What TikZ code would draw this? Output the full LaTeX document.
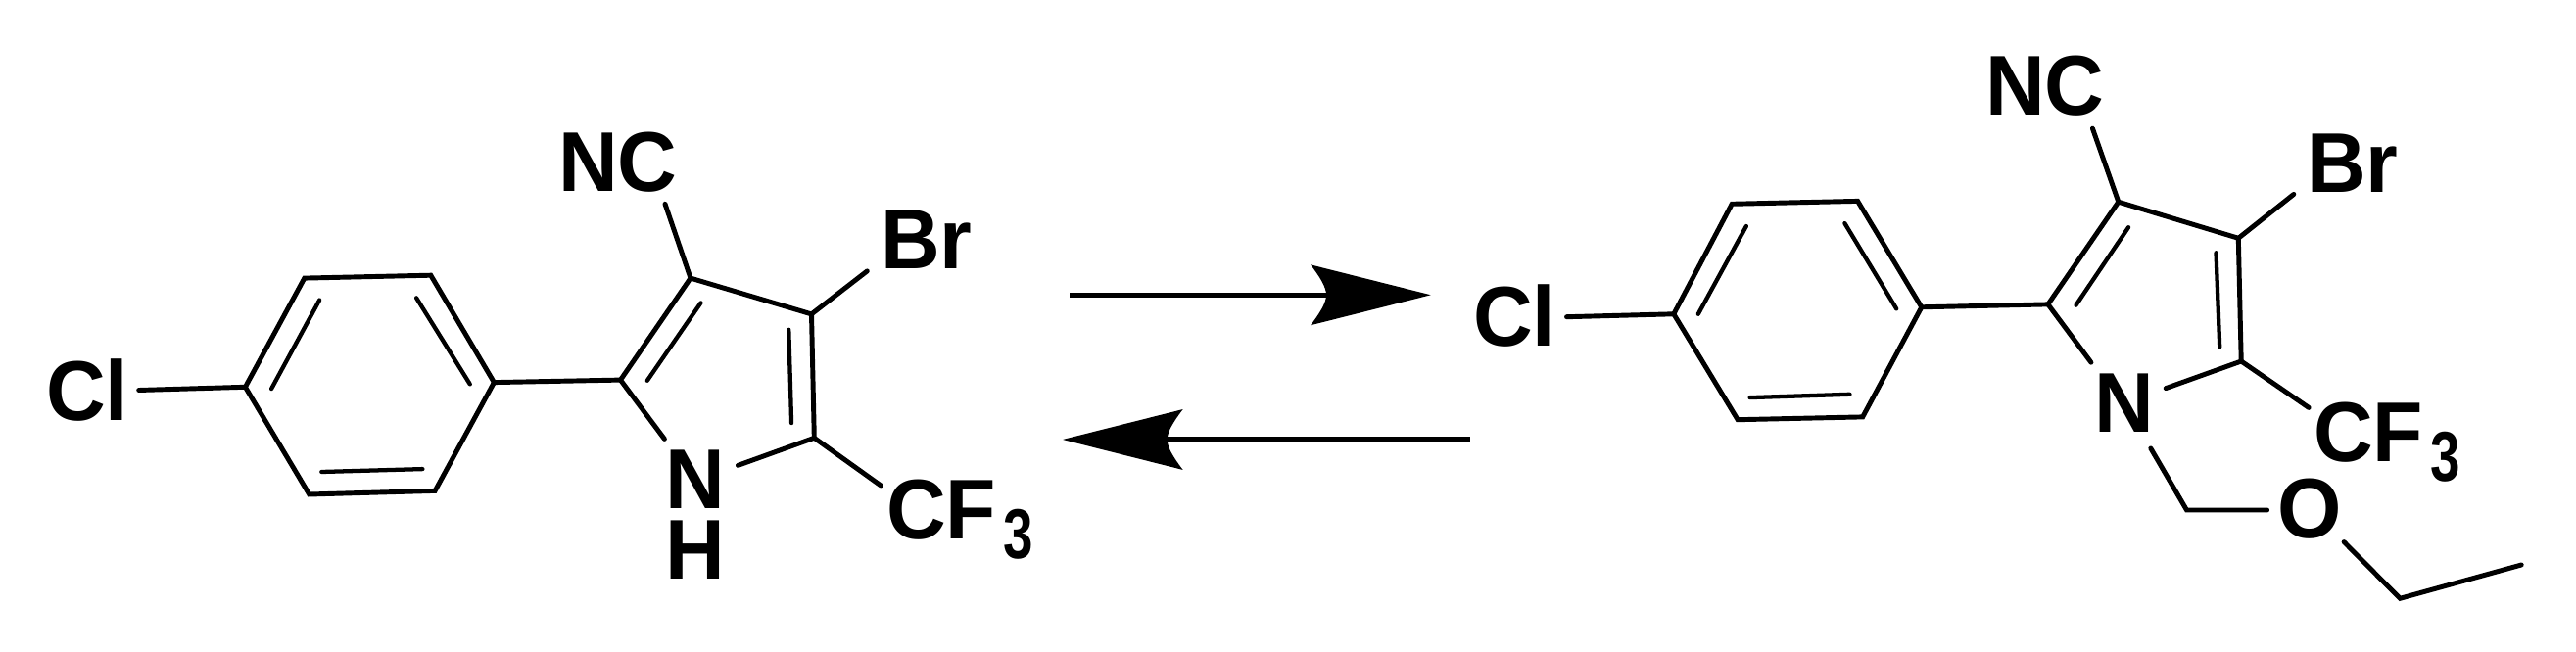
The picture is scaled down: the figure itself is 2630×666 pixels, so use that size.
\documentclass[tikz,border=0pt]{standalone}
\usepackage{fontspec}
\setmainfont[FakeStretch=0.97]{Liberation Sans}
\usepackage{tikz}

\pgfdeclarearrow{
  name = barbhead,
  setup code = {
    \pgfarrowssettipend{0pt}
    \pgfarrowssetbackend{-92pt}
    \pgfarrowssetvisualbackend{-80pt}
    \pgfarrowssetlineend{-78pt}
  },
  drawing code = {
    \pgfpathmoveto{\pgfpointorigin}
    \pgfpathlineto{\pgfpoint{-92pt}{23.2pt}}
    \pgfpathcurveto{\pgfpoint{-85pt}{14pt}}{\pgfpoint{-80pt}{6pt}}{\pgfpoint{-80pt}{0pt}}
    \pgfpathcurveto{\pgfpoint{-80pt}{-6pt}}{\pgfpoint{-85pt}{-14pt}}{\pgfpoint{-92pt}{-23.2pt}}
    \pgfpathclose
    \pgfusepathqfill
  }
}

\tikzset{
  bond/.style = {line width = 3.7pt, line cap = round, line join = miter},
  inbond/.style = {line width = 3.2pt, line cap = round},
  rxn/.style = {line width = 3.9pt, -{barbhead}},
  atom/.style = {anchor = base west, inner sep = 0pt, text height = 47pt, text depth = 0pt,
                 font = \fontsize{65pt}{65pt}\selectfont\bfseries}
}
\newcommand{\subthree}{\kern 5pt\raisebox{-15.7pt}{\scalebox{.9}[1.15]{\fontsize{47pt}{47pt}\selectfont 3}}}

\begin{document}
\begin{tikzpicture}[x = .75pt, y = -.75pt]
  \useasboundingbox (0,0) rectangle (2630,666);

  % left molecule
  \coordinate (la) at (250.4,395.3);
  \coordinate (lb) at (310.8,284.1);
  \coordinate (lc) at (439.8,281.2);
  \coordinate (ld) at (504.4,390.6);
  \coordinate (le) at (444.1,501.4);
  \coordinate (lf) at (315.7,505.0);
  \coordinate (lab1) at (277.1,397.1);
  \coordinate (lab2) at (326.2,306.5);
  \coordinate (lcd1) at (425.1,304.3);
  \coordinate (lcd2) at (479.8,392.4);
  \coordinate (lef1) at (431.4,479.1);
  \coordinate (lef2) at (328.3,482.0);
  \coordinate (lctwo) at (633.5,388.1);
  \coordinate (lcthree) at (705.0,284.1);
  \coordinate (lcfour) at (828.5,320.9);
  \coordinate (lcfive) at (831.3,447.3);
  \coordinate (lin1) at (660.8,388.8);
  \coordinate (lin2) at (715.5,309.4);
  \coordinate (lin3) at (805.3,336.8);
  \coordinate (lin4) at (808.1,432.1);
  \coordinate (lclend) at (141.7,398.5);
  \coordinate (lnone) at (678.4,448.4);
  \coordinate (lntwo) at (753.4,475.4);
  \coordinate (lncend) at (679.0,208.3);
  \coordinate (lbrend) at (885.3,276.9);
  \coordinate (lcfend) at (899.3,496.0);

  \draw[bond] (la) -- (lb) -- (lc) -- (ld) -- (le) -- (lf) -- cycle;
  \draw[inbond] (lab1) -- (lab2);
  \draw[inbond] (lcd1) -- (lcd2);
  \draw[inbond] (lef1) -- (lef2);
  \draw[bond] (lclend) -- (la);
  \draw[bond] (ld) -- (lctwo);
  \draw[bond] (lnone) -- (lctwo) -- (lcthree) -- (lcfour) -- (lcfive) -- (lntwo);
  \draw[inbond] (lin1) -- (lin2);
  \draw[inbond] (lin3) -- (lin4);
  \draw[bond] (lncend) -- (lcthree);
  \draw[bond] (lbrend) -- (lcfour);
  \draw[bond] (lcfend) -- (lcfive);

  \node[atom] (lcl) at (47,429) {Cl};
  \node[atom] (lnc) at (570,195.5) {NC};
  \node[atom] (lbr) at (899,275) {Br};
  \node[atom] (ln) at (679,519.5) {N};
  \node[atom] (lh) at (679,591.5) {H};
  \node[atom] (lcf) at (905,550) {CF\subthree};

  % reaction arrows
  \coordinate (fwdstart) at (1092.3,301.3);
  \coordinate (fwdtip) at (1460.7,301.3);
  \coordinate (revstart) at (1501,449);
  \coordinate (revtip) at (1085,449);
  \draw[rxn] (fwdstart) -- (fwdtip);
  \draw[rxn] (revstart) -- (revtip);

  % right molecule
  \coordinate (ra) at (1708.8,320.8);
  \coordinate (rb) at (1768.2,208.3);
  \coordinate (rc) at (1896.6,205.4);
  \coordinate (rd) at (1961.8,313.8);
  \coordinate (re) at (1901.7,425.9);
  \coordinate (rf) at (1774.1,428.7);
  \coordinate (rab1) at (1733.8,320.8);
  \coordinate (rab2) at (1782.9,231.0);
  \coordinate (rcd1) at (1883.4,228.1);
  \coordinate (rcd2) at (1936.2,315.4);
  \coordinate (ref1) at (1888.5,402.8);
  \coordinate (ref2) at (1786.6,406.1);
  \coordinate (rctwo) at (2090.9,310.9);
  \coordinate (rcthree) at (2162.8,206.2);
  \coordinate (rcfour) at (2285.3,243.3);
  \coordinate (rcfive) at (2288.2,369.0);
  \coordinate (rin1) at (2119.5,311.7);
  \coordinate (rin2) at (2173.1,232.2);
  \coordinate (rin3) at (2262.5,258.2);
  \coordinate (rin4) at (2266.2,354.6);
  \coordinate (rclend) at (1599.5,323.7);
  \coordinate (rnone) at (2134.9,370.2);
  \coordinate (rntwo) at (2211.2,396.6);
  \coordinate (rncend) at (2136.4,131.2);
  \coordinate (rbrend) at (2341.8,198.4);
  \coordinate (rcfend) at (2357.1,416.4);
  \coordinate (rnthree) at (2195.8,458.0);
  \coordinate (rchtwo) at (2232.5,521.0);
  \coordinate (rofirst) at (2314.6,521.0);
  \coordinate (rosecond) at (2393.1,553.6);
  \coordinate (rchthree) at (2450.3,611.3);
  \coordinate (rend) at (2574.2,577.0);

  \draw[bond] (ra) -- (rb) -- (rc) -- (rd) -- (re) -- (rf) -- cycle;
  \draw[inbond] (rab1) -- (rab2);
  \draw[inbond] (rcd1) -- (rcd2);
  \draw[inbond] (ref1) -- (ref2);
  \draw[bond] (rclend) -- (ra);
  \draw[bond] (rd) -- (rctwo);
  \draw[bond] (rnone) -- (rctwo) -- (rcthree) -- (rcfour) -- (rcfive) -- (rntwo);
  \draw[inbond] (rin1) -- (rin2);
  \draw[inbond] (rin3) -- (rin4);
  \draw[bond] (rncend) -- (rcthree);
  \draw[bond] (rbrend) -- (rcfour);
  \draw[bond] (rcfend) -- (rcfive);
  \draw[bond] (rnthree) -- (rchtwo) -- (rofirst);
  \draw[bond] (rosecond) -- (rchthree) -- (rend);

  \node[atom] (rcl) at (1504,353.5) {Cl};
  \node[atom] (rnc) at (2027,117.5) {NC};
  \node[atom] (rbr) at (2355,196.5) {Br};
  \node[atom] (rn) at (2138,441.5) {N};
  \node[atom] (rcf) at (2362,471) {CF\subthree};
  \node[atom] (ro) at (2325,549) {O};
\end{tikzpicture}
\end{document}
